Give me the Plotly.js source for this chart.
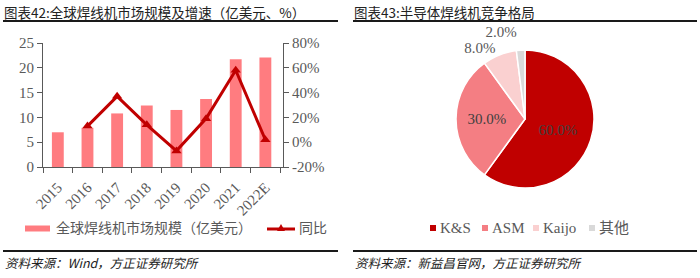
<!DOCTYPE html>
<html><head><meta charset="utf-8">
<script src="https://cdn.plot.ly/plotly-3.0.1.min.js"></script>
<style>html,body{margin:0;padding:0;background:#fff}#c{width:700px;height:278px}</style>
</head><body><div id="c"></div>
<script>
const years = ['2015','2016','2017','2018','2019','2020','2021','2022E'];
const marketSize = [7.0, 7.9, 10.8, 12.4, 11.5, 13.7, 21.7, 22.1];
const yoyYears = ['2016','2017','2018','2019','2020','2021','2022E'];
const yoy = [0.13, 0.37, 0.14, -0.07, 0.19, 0.58, 0.02];
const yoyTickVals = [-0.2, 0, 0.2, 0.4, 0.6, 0.8];
const yoyTickText = ['-20%', '0%', '20%', '40%', '60%', '80%'];
const pieLabels = ['K&S','ASM','Kaijo','其他'];
const pieValues = [60, 30, 8, 2];
const pieText = ['60.0%','30.0%','8.0%','2.0%'];
const barName = '全球焊线机市场规模（亿美元）';
const lineName = '同比';

const W = 700, H = 278;
const px = x => x / W;
const py = y => 1 - y / H;
const serif = '"Liberation Serif", "Noto Sans CJK SC", serif';
const cjk = '"Noto Sans CJK SC", sans-serif';
const barColor = '#FF7C80', lineColor = '#C00000';
const pieColors = ['#C00000','#F47E83','#FAD0D0','#D9D9D9'];
const axisGrey = '#595959';

const traces = [
  {type:'bar', x: years, y: marketSize, name: barName,
   marker:{color: barColor}, xaxis:'x', yaxis:'y'},
  {type:'scatter', mode:'lines+markers', x: yoyYears, y: yoy, name: lineName,
   line:{color: lineColor, width:3}, marker:{symbol:'triangle-up', size:9, color: lineColor},
   xaxis:'x', yaxis:'y2'},
  {type:'pie', labels: pieLabels, values: pieValues, text: pieText, textinfo:'text',
   textposition:['inside','inside','outside','outside'],
   insidetextfont:{family: serif, size:15, color:'#404040'},
   outsidetextfont:{family: serif, size:15, color:axisGrey},
   marker:{colors: pieColors, line:{color:'#fff', width:1.5}},
   sort:false, direction:'clockwise', rotation:0,
   domain:{x:[px(456), px(594)], y:[py(188), py(50)]}}
];

const shapes = [
  {type:'line', xref:'paper', yref:'paper', x0:px(3), x1:px(338), y0:py(21), y1:py(21), line:{color:'#1a1a1a', width:2}},
  {type:'line', xref:'paper', yref:'paper', x0:px(353), x1:px(697), y0:py(21), y1:py(21), line:{color:'#1a1a1a', width:2}},
  {type:'line', xref:'paper', yref:'paper', x0:px(3), x1:px(338), y0:py(251), y1:py(251), line:{color:'#1a1a1a', width:2}},
  {type:'line', xref:'paper', yref:'paper', x0:px(353), x1:px(697), y0:py(251), y1:py(251), line:{color:'#1a1a1a', width:2}},
  // left legend symbols
  {type:'rect', xref:'paper', yref:'paper', x0:px(25), x1:px(50), y0:py(231.5), y1:py(225.5), fillcolor: barColor, line:{width:0}},
  {type:'line', xref:'paper', yref:'paper', x0:px(267), x1:px(295), y0:py(229), y1:py(229), line:{color: lineColor, width:3}},
  {type:'path', xref:'paper', yref:'paper',
   path:`M ${px(277)} ${py(231)} L ${px(285)} ${py(231)} L ${px(281)} ${py(224)} Z`, fillcolor: lineColor, line:{width:0}}
];
const annotations = [
  {text:'图表42:全球焊线机市场规模及增速（亿美元、%）', xref:'paper', yref:'paper', x:px(2), y:py(12),
   xanchor:'left', yanchor:'middle', showarrow:false, font:{family: cjk, size:13.5, color:'#222'}},
  {text:'图表43:半导体焊线机竞争格局', xref:'paper', yref:'paper', x:px(352), y:py(12),
   xanchor:'left', yanchor:'middle', showarrow:false, font:{family: cjk, size:13.5, color:'#222'}},
  {text:'<i>资料来源：Wind，方正证券研究所</i>', xref:'paper', yref:'paper', x:px(3), y:py(262),
   xanchor:'left', yanchor:'middle', showarrow:false, font:{family: cjk, size:12.5, color:'#222'}},
  {text:'<i>资料来源：新益昌官网，方正证券研究所</i>', xref:'paper', yref:'paper', x:px(353), y:py(262),
   xanchor:'left', yanchor:'middle', showarrow:false, font:{family: cjk, size:12.5, color:'#222'}},
  {text: barName, xref:'paper', yref:'paper', x:px(54), y:py(228), xanchor:'left', yanchor:'middle',
   showarrow:false, font:{family: serif, size:14, color: axisGrey}},
  {text: lineName, xref:'paper', yref:'paper', x:px(297), y:py(228), xanchor:'left', yanchor:'middle',
   showarrow:false, font:{family: serif, size:14, color: axisGrey}}
];
// pie legend: small squares + labels
const pieLegendX = [430, 482, 533, 589];
pieLabels.forEach((lab, i) => {
  const x = pieLegendX[i];
  shapes.push({type:'rect', xref:'paper', yref:'paper', x0:px(x), x1:px(x+6), y0:py(231), y1:py(225),
    fillcolor: pieColors[i], line:{width:0}});
  annotations.push({text: lab, xref:'paper', yref:'paper', x:px(x+8), y:py(228), xanchor:'left', yanchor:'middle',
    showarrow:false, font:{family: serif, size:15, color: axisGrey}});
});

const layout = {
  width: W, height: H, margin:{l:0,r:0,t:0,b:0},
  paper_bgcolor:'#fff', plot_bgcolor:'#fff',
  showlegend: false,
  bargap: 0.6,
  font:{family: serif, color: axisGrey, size:14},
  xaxis:{domain:[px(43), px(283)], type:'category', showline:true, linecolor: axisGrey, linewidth:1,
    ticks:'outside', tickson:'boundaries', ticklen:5, tickcolor: axisGrey, tickangle:-45,
    ticklabelstandoff:5,
    tickfont:{family: serif, size:15, color: axisGrey}, showgrid:false, zeroline:false},
  yaxis:{domain:[py(167), py(43)], range:[0,25], dtick:5, showline:true, linecolor: axisGrey,
    ticks:'outside', ticklen:5, tickcolor: axisGrey, showgrid:false, zeroline:false,
    tickfont:{family: serif, size:15, color: axisGrey}},
  yaxis2:{overlaying:'y', side:'right', anchor:'x', range:[-0.2,0.8], tickmode:'array',
    tickvals: yoyTickVals, ticktext: yoyTickText,
    showline:true, linecolor: axisGrey, ticks:'outside', ticklen:5, tickcolor: axisGrey,
    showgrid:false, zeroline:false, tickfont:{family: serif, size:15, color: axisGrey}},
  shapes, annotations
};

Plotly.newPlot('c', traces, layout, {displayModeBar:false, staticPlot:true}).then(() => {
  document.querySelectorAll('path.textline').forEach(e => e.remove());
});
</script></body></html>
